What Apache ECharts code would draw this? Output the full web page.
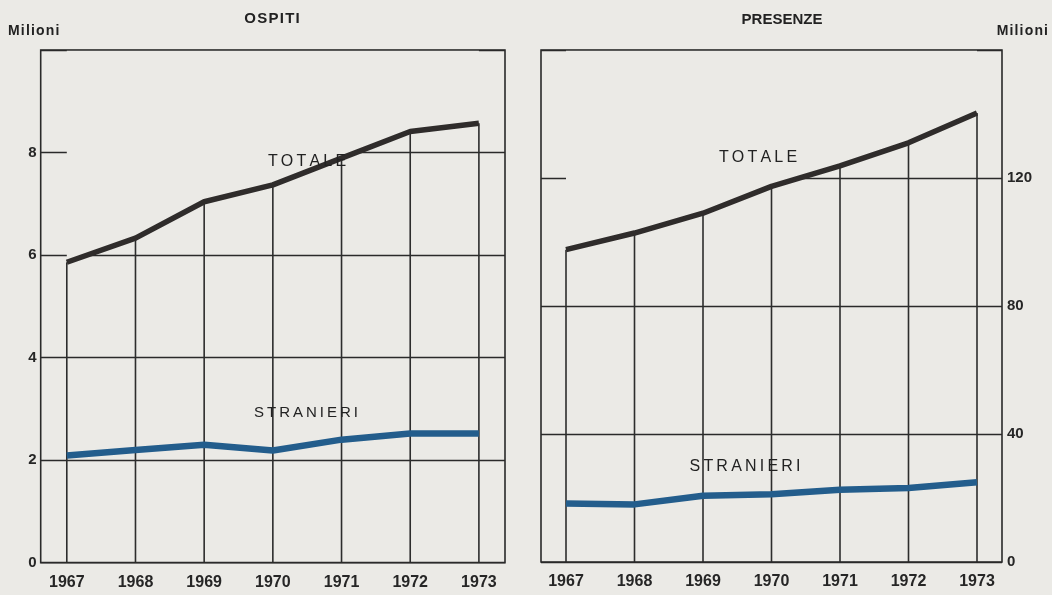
<!DOCTYPE html>
<html>
<head>
<meta charset="utf-8">
<script src="https://cdn.jsdelivr.net/npm/echarts@6/dist/echarts.min.js"></script>
<style>
html,body{margin:0;padding:0;background:#ebeae6;}
#c{width:1052px;height:595px;}
</style>
</head>
<body>
<div id="c"></div>
<script>
const years = [1967, 1968, 1969, 1970, 1971, 1972, 1973];
const ospitiTotale    = [5.86, 6.33, 7.04, 7.37, 7.89, 8.41, 8.57];
const ospitiStranieri = [2.09, 2.20, 2.30, 2.19, 2.40, 2.52, 2.52];
const presenzeTotale    = [97.6, 102.8, 109.0, 117.4, 123.8, 131.0, 140.3];
const presenzeStranieri = [18.3, 18.0, 20.7, 21.2, 22.6, 23.1, 24.9];
const leftTicks = [0, 2, 4, 6, 8];
const rightTicks = [0, 40, 80, 120];

const BG = '#ebeae6';
const INK = '#2f2c2b';
const BLUE = '#235d8c';
const FONT = '"Liberation Sans", Arial, sans-serif';

const pairs = (vals) => years.map((y, i) => [y, vals[i]]);
const spaced = (s, sp) => s.split('').join(sp);

const chart = echarts.init(document.getElementById('c'), null, {renderer: 'canvas'});

function xAxisCfg(gridIndex, min, max) {
  return {
    type: 'value', gridIndex, min, max,
    axisLine: {show: false},
    axisTick: {show: false},
    splitLine: {show: false},
    axisLabel: {
      customValues: years, margin: 12,
      color: '#262626', fontSize: 16, fontWeight: 'bold', fontFamily: FONT,
      formatter: v => String(Math.round(v))
    }
  };
}
function yAxisCfg(gridIndex, max, interval, pos, shown) {
  return {
    type: 'value', gridIndex, min: 0, max, interval, position: pos,
    axisLine: {show: false},
    axisTick: {show: false},
    splitLine: {show: true, lineStyle: {color: '#2a2a2a', width: 1.3}},
    axisLabel: {
      margin: pos === 'left' ? 4 : 5,
      color: '#262626', fontSize: 15, fontWeight: 'bold', fontFamily: FONT,
      formatter: v => shown.includes(v) ? String(v) : ''
    }
  };
}

function totalSeries(idx, vals) {
  return [
    {
      type: 'bar', xAxisIndex: idx, yAxisIndex: idx, data: pairs(vals),
      barWidth: 1.6, itemStyle: {color: '#2d2d2d'}, z: 2, silent: true
    },
    {
      type: 'line', xAxisIndex: idx, yAxisIndex: idx, data: pairs(vals),
      symbol: 'none', smooth: false,
      lineStyle: {color: INK, width: 5.5, cap: 'butt', join: 'round'},
      areaStyle: {origin: 'end', color: BG, opacity: 1},
      z: 3, silent: true
    }
  ];
}
function foreignSeries(idx, vals) {
  return {
    type: 'line', xAxisIndex: idx, yAxisIndex: idx, data: pairs(vals),
    symbol: 'none',
    lineStyle: {color: BLUE, width: 6.5, cap: 'butt', join: 'round'},
    z: 4, silent: true
  };
}

const txt = (x, y, text, opts) => Object.assign({
  type: 'text', x, y, z: 100,
  style: Object.assign({text, fill: '#222', font: '15px ' + FONT, textVerticalAlign: 'middle'}, opts || {})
});

chart.setOption({
  backgroundColor: BG,
  animation: false,
  grid: [
    {left: 40.7, top: 50, width: 464.3, height: 512.7, show: true, borderColor: '#2a2a2a', borderWidth: 1.6, backgroundColor: 'transparent', z: 10},
    {left: 541, top: 50, width: 461, height: 512, show: true, borderColor: '#2a2a2a', borderWidth: 1.6, backgroundColor: 'transparent', z: 10}
  ],
  xAxis: [xAxisCfg(0, 1966.62, 1973.38), xAxisCfg(1, 1966.635, 1973.365)],
  yAxis: [yAxisCfg(0, 10, 2, 'left', leftTicks), yAxisCfg(1, 160, 40, 'right', rightTicks)],
  series: [
    ...totalSeries(0, ospitiTotale),
    foreignSeries(0, ospitiStranieri),
    ...totalSeries(1, presenzeTotale),
    foreignSeries(1, presenzeStranieri)
  ],
  graphic: [
    txt(272, 19, spaced('OSPITI', '\u200a'), {font: 'bold 15px ' + FONT, textAlign: 'center'}),
    txt(782, 20, 'PRESENZE', {font: 'bold 15px ' + FONT, textAlign: 'center'}),
    txt(8, 31, spaced('Milioni', '\u200a'), {font: 'bold 14px ' + FONT, textAlign: 'left'}),
    txt(1048, 31, spaced('Milioni', '\u200a'), {font: 'bold 14px ' + FONT, textAlign: 'right'}),
    txt(307, 162, spaced('TOTALE', '\u2009'), {font: '16px ' + FONT, textAlign: 'center'}),
    txt(306, 413, spaced('STRANIERI', '\u2009'), {font: '15px ' + FONT, textAlign: 'center'}),
    txt(758, 158, spaced('TOTALE', '\u2009'), {font: '16px ' + FONT, textAlign: 'center'}),
    txt(745, 467, spaced('STRANIERI', '\u2009'), {font: '16px ' + FONT, textAlign: 'center'})
  ]
});
</script>
</body>
</html>
